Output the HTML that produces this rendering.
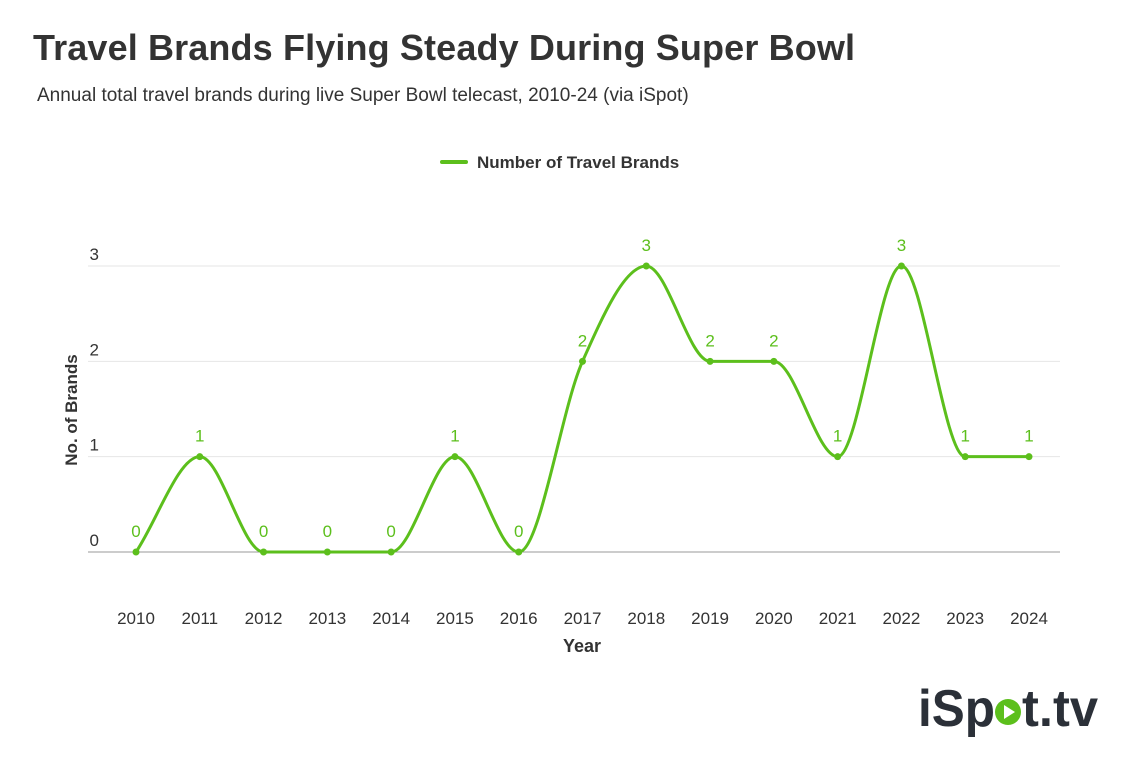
<!DOCTYPE html>
<html><head><meta charset="utf-8"><style>
body{margin:0;width:1135px;height:752px;background:#fff;overflow:hidden;font-family:"Liberation Sans",Arial,sans-serif}
</style></head><body>
<svg id="c" width="1135" height="752" xmlns="http://www.w3.org/2000/svg">
<text x="33" y="60" font-size="36" font-weight="bold" fill="#333" textLength="822">Travel Brands Flying Steady During Super Bowl</text>
<text x="37" y="101" font-size="19" fill="#333">Annual total travel brands during live Super Bowl telecast, 2010-24 (via iSpot)</text>
<g>
<line x1="442" y1="162" x2="466" y2="162" stroke="#5cbf1c" stroke-width="4" stroke-linecap="round"/>
<text x="477" y="168" font-size="17" font-weight="bold" fill="#333">Number of Travel Brands</text>
</g>
<text transform="translate(77,410) rotate(-90)" text-anchor="middle" font-size="17" font-weight="bold" fill="#333">No. of Brands</text>
<text x="582" y="652" text-anchor="middle" font-size="18" font-weight="bold" fill="#333">Year</text>
<g id="grid"></g><g id="series"></g>
<g>
<text x="918" y="726" font-size="52" font-weight="bold" fill="#2b3038" textLength="77" lengthAdjust="spacingAndGlyphs">iSp</text>
<circle cx="1008" cy="712" r="13" fill="#5cbf1c"/>
<path d="M1004 705 L1004 719 L1015 712 Z" fill="#fff"/>
<text x="1022" y="726" font-size="52" font-weight="bold" fill="#2b3038" textLength="76" lengthAdjust="spacingAndGlyphs">t.tv</text>
</g>
</svg>
<script>
const categories=["2010","2011","2012","2013","2014","2015","2016","2017","2018","2019","2020","2021","2022","2023","2024"];
const values=[0,1,0,0,0,1,0,2,3,2,2,1,3,1,1];
const yTicks=[0,1,2,3];
const NS="http://www.w3.org/2000/svg";
const X=i=>136+i*(1029-136)/(categories.length-1);
const Y=v=>552-v*95.33;
function mk(t,a,p){const e=document.createElementNS(NS,t);for(const k in a)e.setAttribute(k,a[k]);p.appendChild(e);return e;}
const grid=document.getElementById('grid'),ser=document.getElementById('series');
yTicks.forEach(v=>{
 const l=mk('line',{x1:88,x2:1060,y1:Y(v),y2:Y(v),stroke:v===0?'#999':'#e6e6e6','stroke-width':1},grid);
 
 
 const t=mk('text',{x:99,y:Y(v)-6,'text-anchor':'end','font-size':17,fill:'#333'},grid);t.textContent=v;
 
 
});
categories.forEach((c,i)=>{
 const t=mk('text',{x:X(i),y:624,'text-anchor':'middle','font-size':17,fill:'#333'},grid);t.textContent=c;
 
 
});
const px=values.map((v,i)=>X(i)),py=values.map(v=>Y(v)),n=values.length;
const d=[],m=[];
for(let i=0;i<n-1;i++)d.push((py[i+1]-py[i])/(px[i+1]-px[i]));
for(let i=0;i<n;i++){
 if(i===0)m.push(d[0]);else if(i===n-1)m.push(d[n-2]);
 else m.push(d[i-1]*d[i]<=0?0:(d[i-1]+d[i])/2);
}
for(let i=0;i<n-1;i++){if(d[i]===0){m[i]=0;m[i+1]=0;}}
let p=`M${px[0]},${py[0]}`;
for(let i=0;i<n-1;i++){const h=(px[i+1]-px[i])/3;p+=` C${px[i]+h},${py[i]+m[i]*h} ${px[i+1]-h},${py[i+1]-m[i+1]*h} ${px[i+1]},${py[i+1]}`;}
const line=mk('path',{d:p,fill:'none',stroke:'#5cbf1c','stroke-width':3},ser);


values.forEach((v,i)=>{
 const c=mk('circle',{cx:X(i),cy:Y(v),r:3.5,fill:'#5cbf1c'},ser);
 
 
 const t=mk('text',{x:X(i),y:Y(v)-15,'text-anchor':'middle','font-size':17,fill:'#5cbf1c'},ser);t.textContent=v;
 
 
});
</script>
</body></html>
